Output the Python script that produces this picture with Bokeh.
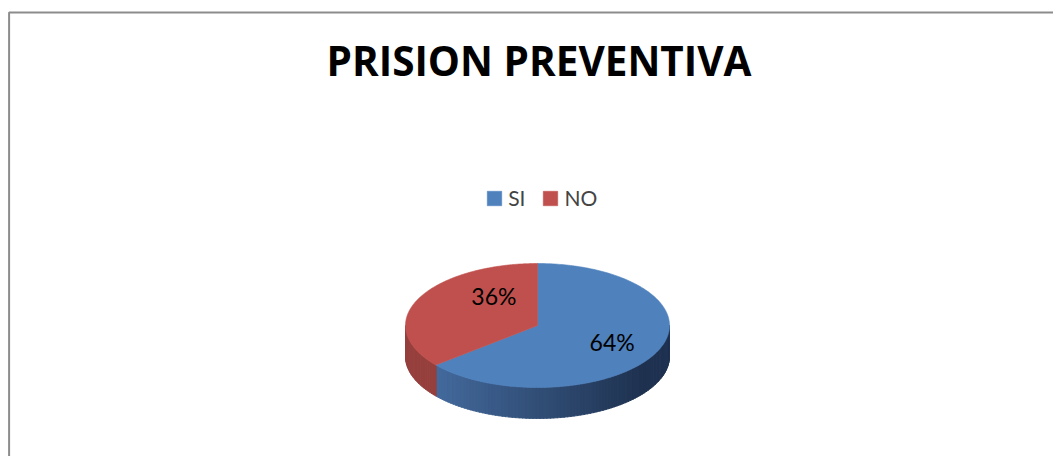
import numpy as np
from bokeh.plotting import figure
from bokeh.models import ColumnDataSource, Legend, LegendItem, Range1d
from bokeh.embed import file_html
from bokeh.resources import INLINE
from bokeh.core.properties import value

# ---------------- data ----------------
TITLE = "PRISION PREVENTIVA"
categories = ["SI", "NO"]
percent = [64, 36]
pct_labels = ["64%", "36%"]

# ---------------- style / layout ----------------
top_colors = ["#4F81BD", "#C0504D"]
side_light = [(68, 107, 158), (150, 64, 62)]
side_dark = [(31, 50, 80), (110, 44, 42)]
FONT = "Lato"
TITLE_FONT = "Open Sans"
W, H = 1053, 456
CX, CY, RX, RY, DEPTH = 537, 131, 132, 62, 31
LABEL_R = 0.625
LABEL_NUDGE = [(0, 0), (31, 13)]

p = figure(width=W, height=H, x_range=Range1d(0, W), y_range=Range1d(0, H),
           x_axis_type=None, y_axis_type=None, output_backend="svg",
           toolbar_location=None, min_border=0)
p.outline_line_color = None
p.grid.visible = False
p.background_fill_color = "white"
p.border_fill_color = "white"

# chart-area border (left and top edges visible)
p.line([8.6, 8.6, W + 20], [-20, H - 12, H - 12], line_color="#8c8c8c", line_width=2)

total = float(sum(percent))
bounds = []
start = 90.0
for v in percent:
    end = start - v / total * 360.0
    bounds.append((start, end))
    start = end


def ell(theta_deg, dy=0.0):
    t = np.radians(theta_deg)
    return CX + RX * np.cos(t), CY + RY * np.sin(t) - dy


def lerp(c0, c1, f):
    f = min(max(f, 0.0), 1.0)
    return "#%02x%02x%02x" % tuple(int(round(a + (b - a) * f)) for a, b in zip(c0, c1))


# side walls (front half only), drawn as thin shaded strips
sx, sy, sc = [], [], []
for i, (a0, a1) in enumerate(bounds):
    lo, hi = min(a0, a1), max(a0, a1)
    for k in (-1, 0, 1):
        vlo, vhi = max(lo, -180 + 360 * k), min(hi, 360 * k)
        if vhi <= vlo:
            continue
        n = max(2, int((vhi - vlo) / 1.5))
        th = np.linspace(vlo, vhi, n + 1)
        for j in range(n):
            t = np.array([th[j], th[j + 1] + 0.3])
            x, y = ell(t)
            xb, yb = ell(t[::-1], DEPTH)
            sx.append(list(x) + list(xb))
            sy.append(list(y) + list(yb))
            u = (np.cos(np.radians(th[j:j + 2].mean())) + 1) / 2
            sc.append(lerp(side_light[i], side_dark[i], (u - 0.1) / 0.8))
p.patches(sx, sy, fill_color=sc, line_color=sc, line_width=0.8)

# top faces
tx, ty = [], []
for a0, a1 in bounds:
    th = np.linspace(a0, a1, 240)
    x, y = ell(th)
    tx.append([CX] + list(x))
    ty.append([CY] + list(y))
top_src = ColumnDataSource(dict(xs=tx, ys=ty, color=top_colors, cat=categories))
top_r = p.patches("xs", "ys", source=top_src, fill_color="color", line_color="color", line_width=0.6)

# percentage labels
lx, ly = [], []
for (a0, a1), (nx, ny) in zip(bounds, LABEL_NUDGE):
    m = np.radians((a0 + a1) / 2)
    lx.append(CX + LABEL_R * RX * np.cos(m) + nx)
    ly.append(CY + LABEL_R * RY * np.sin(m) + ny)
p.text(lx, ly, text=pct_labels, text_font=value(FONT), text_font_size="23px",
       text_align="center", text_baseline="middle", text_color="black")

# title
p.text([538.5], [H - 59.5], text=[TITLE], text_font=value(TITLE_FONT), text_font_size="40.5px",
       text_font_style="bold", text_align="center", text_baseline="middle", text_color="black")

legend = Legend(items=[LegendItem(label=c, renderers=[top_r], index=i) for i, c in enumerate(categories)],
                orientation="horizontal", location=(485.2, 246), glyph_width=18, glyph_height=18,
                label_standoff=5, spacing=16, padding=0, margin=0, border_line_color=None,
                background_fill_alpha=0, label_text_font=FONT, label_text_font_size="21px",
                label_width=0)
p.add_layout(legend, "center")

open("out.html", "w").write(file_html(p, INLINE))
